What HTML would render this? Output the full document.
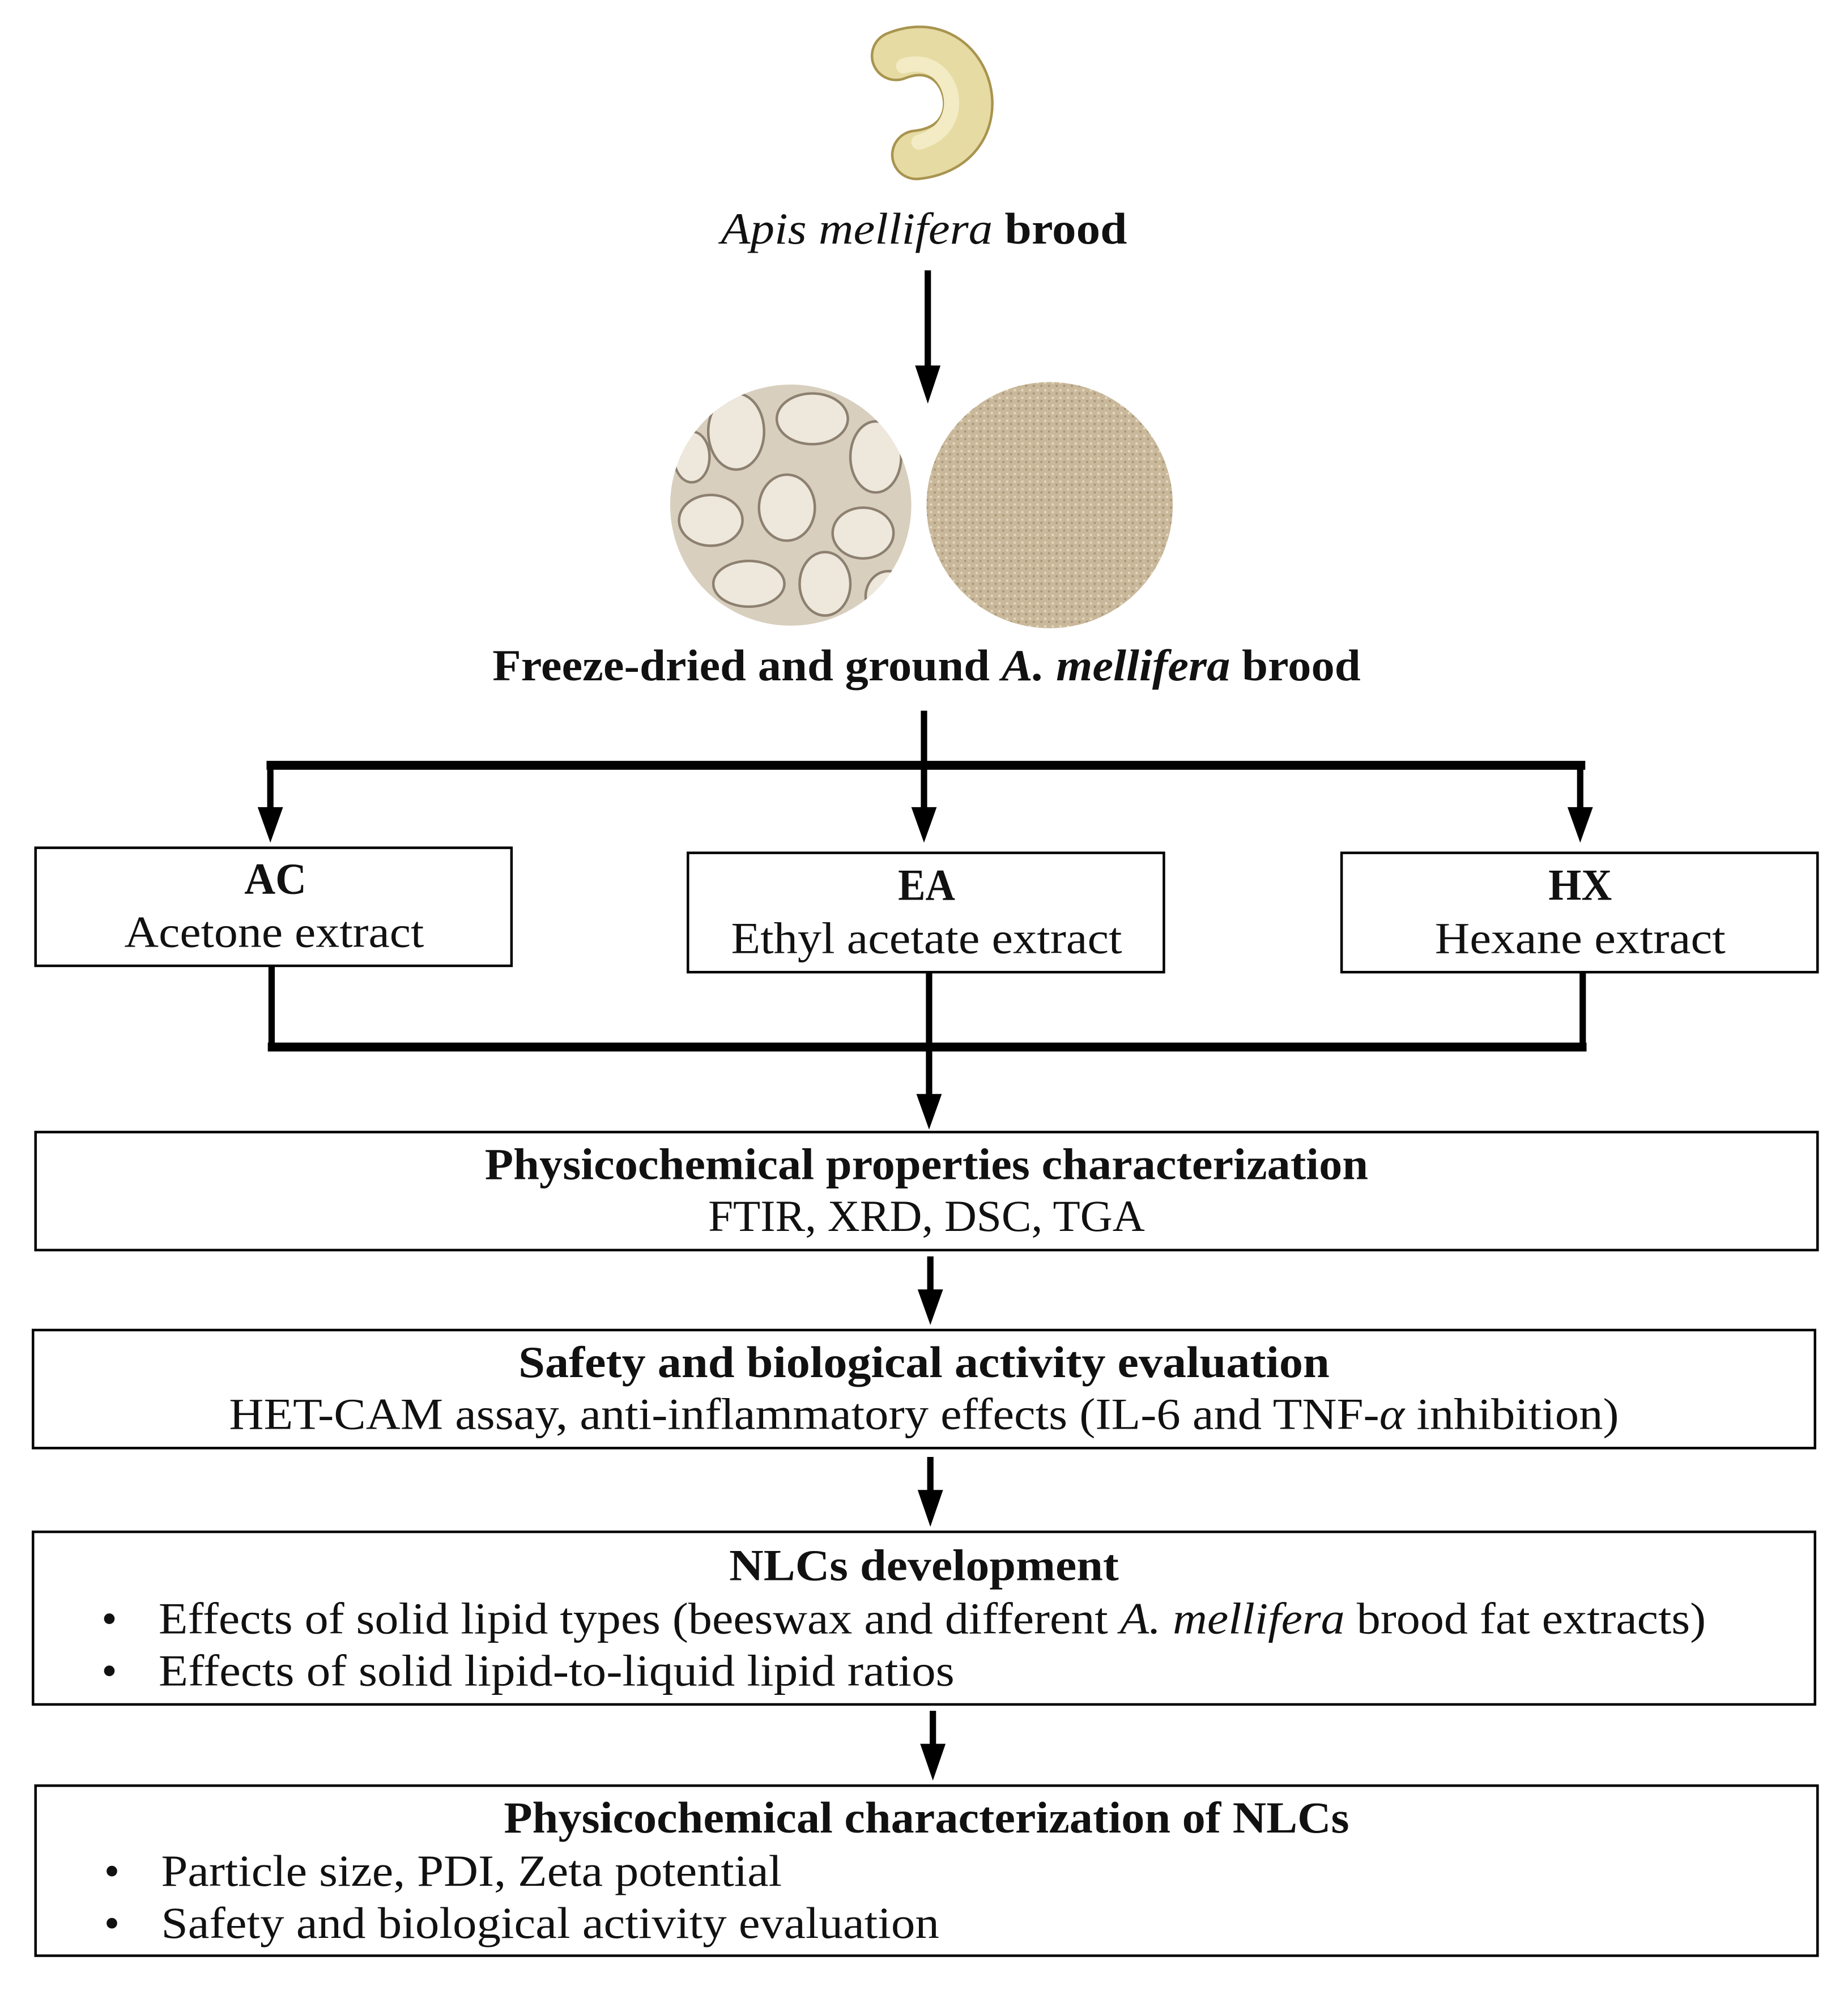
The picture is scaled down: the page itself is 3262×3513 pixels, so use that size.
<!DOCTYPE html>
<html><head><meta charset="utf-8"><style>
html,body{margin:0;padding:0;background:#fff;}
svg{display:block;}
text{font-family:"Liberation Serif",serif;fill:#111;}
.b{font-weight:bold;}
</style></head><body>
<svg width="3262" height="3513" viewBox="0 0 1456 1568" xmlns="http://www.w3.org/2000/svg">
<defs>
<pattern id="sand" width="6" height="6" patternUnits="userSpaceOnUse"><rect width="6" height="6" fill="#c9b89a"/><circle cx="1.5" cy="1.5" r="1" fill="#e4d7bf"/><circle cx="4.5" cy="4" r="0.9" fill="#a8957a"/></pattern>
<clipPath id="c1"><circle cx="623" cy="398" r="95"/></clipPath>
</defs>
<!-- larva -->
<path d="M706,44 C765,20 790,115 722,122" fill="none" stroke="#a8944f" stroke-width="40" stroke-linecap="round"/>
<path d="M706,44 C765,20 790,115 722,122" fill="none" stroke="#e6dba2" stroke-width="36" stroke-linecap="round"/>
<path d="M712,52 C750,40 768,100 724,112" fill="none" stroke="#f2ebc4" stroke-width="12" stroke-linecap="round"/>
<text x="728" y="192" font-size="35" text-anchor="middle" textLength="320" lengthAdjust="spacingAndGlyphs"><tspan font-style="italic">Apis mellifera</tspan><tspan font-weight="bold"> brood</tspan></text>
<!-- circles -->
<circle cx="623" cy="398" r="95" fill="#d8cfbe"/>
<g clip-path="url(#c1)" fill="#eee8dc" stroke="#8d8070" stroke-width="2">
<ellipse cx="580" cy="340" rx="22" ry="30"/><ellipse cx="640" cy="330" rx="28" ry="20"/><ellipse cx="690" cy="360" rx="20" ry="28"/>
<ellipse cx="560" cy="410" rx="25" ry="20"/><ellipse cx="620" cy="400" rx="22" ry="26"/><ellipse cx="680" cy="420" rx="24" ry="20"/>
<ellipse cx="590" cy="460" rx="28" ry="18"/><ellipse cx="650" cy="460" rx="20" ry="25"/><ellipse cx="700" cy="470" rx="18" ry="20"/>
<ellipse cx="545" cy="360" rx="14" ry="20"/>
</g>
<circle cx="827" cy="398" r="97" fill="url(#sand)"/>
<text x="730" y="536" font-size="35" text-anchor="middle" font-weight="bold" textLength="684" lengthAdjust="spacingAndGlyphs">Freeze-dried and ground <tspan font-style="italic">A. mellifera</tspan> brood</text>
<g stroke="#000" fill="none">
<line x1="731" y1="213" x2="731" y2="292" stroke-width="5"/>
<line x1="728" y1="560" x2="728" y2="640" stroke-width="5"/>
<line x1="210" y1="603" x2="1249" y2="603" stroke-width="7"/>
<line x1="213" y1="603" x2="213" y2="640" stroke-width="5"/>
<line x1="1245" y1="603" x2="1245" y2="640" stroke-width="5"/>
<rect x="28" y="668" width="375" height="93" stroke-width="2"/>
<rect x="542" y="672" width="375" height="94" stroke-width="2"/>
<rect x="1057" y="672" width="375" height="94" stroke-width="2"/>
<line x1="214" y1="761" x2="214" y2="825" stroke-width="5"/>
<line x1="1247" y1="766" x2="1247" y2="825" stroke-width="5"/>
<line x1="211" y1="825" x2="1250" y2="825" stroke-width="7"/>
<line x1="732" y1="766" x2="732" y2="866" stroke-width="5"/>
<rect x="28" y="892" width="1404" height="93" stroke-width="2"/>
<line x1="733" y1="990" x2="733" y2="1020" stroke-width="5"/>
<rect x="26" y="1048" width="1404" height="93" stroke-width="2"/>
<line x1="733" y1="1148" x2="733" y2="1178" stroke-width="5"/>
<rect x="26" y="1207" width="1404" height="136" stroke-width="2"/>
<line x1="735" y1="1348" x2="735" y2="1378" stroke-width="5"/>
<rect x="28" y="1407" width="1404" height="134" stroke-width="2"/>
</g>
<g fill="#000">
<polygon points="721,288 741,288 731,318"/>
<polygon points="718,636 738,636 728,664"/>
<polygon points="203,636 223,636 213,664"/>
<polygon points="1235,636 1255,636 1245,664"/>
<polygon points="722,862 742,862 732,890"/>
<polygon points="723,1016 743,1016 733,1044"/>
<polygon points="723,1174 743,1174 733,1203"/>
<polygon points="725,1374 745,1374 735,1403"/>
</g>
<g font-size="35" text-anchor="middle" lengthAdjust="spacingAndGlyphs">
<text x="217" y="704" font-weight="bold" textLength="49" lengthAdjust="spacingAndGlyphs">AC</text>
<text x="216" y="746" textLength="236" lengthAdjust="spacingAndGlyphs">Acetone extract</text>
<text x="730" y="709" font-weight="bold" textLength="45" lengthAdjust="spacingAndGlyphs">EA</text>
<text x="730" y="751" textLength="308" lengthAdjust="spacingAndGlyphs">Ethyl acetate extract</text>
<text x="1245" y="709" font-weight="bold" textLength="50" lengthAdjust="spacingAndGlyphs">HX</text>
<text x="1245" y="751" textLength="229" lengthAdjust="spacingAndGlyphs">Hexane extract</text>
<text x="730" y="929" font-weight="bold" textLength="696" lengthAdjust="spacingAndGlyphs">Physicochemical properties characterization</text>
<text x="730" y="970" textLength="344" lengthAdjust="spacingAndGlyphs">FTIR, XRD, DSC, TGA</text>
<text x="728" y="1085" font-weight="bold" textLength="639" lengthAdjust="spacingAndGlyphs">Safety and biological activity evaluation</text>
<text x="728" y="1126" textLength="1095" lengthAdjust="spacingAndGlyphs">HET-CAM assay, anti-inflammatory effects (IL-6 and TNF-<tspan font-style="italic">α</tspan> inhibition)</text>
<text x="728" y="1245" font-weight="bold" textLength="307" lengthAdjust="spacingAndGlyphs">NLCs development</text>
<text x="730" y="1444" font-weight="bold" textLength="666" lengthAdjust="spacingAndGlyphs">Physicochemical characterization of NLCs</text>
</g>
<g font-size="35">
<text x="80" y="1287">•</text>
<text x="125" y="1287" textLength="1219" lengthAdjust="spacingAndGlyphs">Effects of solid lipid types (beeswax and different <tspan font-style="italic">A. mellifera</tspan> brood fat extracts)</text>
<text x="80" y="1328">•</text>
<text x="125" y="1328" textLength="627" lengthAdjust="spacingAndGlyphs">Effects of solid lipid-to-liquid lipid ratios</text>
<text x="82" y="1486">•</text>
<text x="127" y="1486" textLength="489" lengthAdjust="spacingAndGlyphs">Particle size, PDI, Zeta potential</text>
<text x="82" y="1527">•</text>
<text x="127" y="1527" textLength="613" lengthAdjust="spacingAndGlyphs">Safety and biological activity evaluation</text>
</g>
</svg>
</body></html>
